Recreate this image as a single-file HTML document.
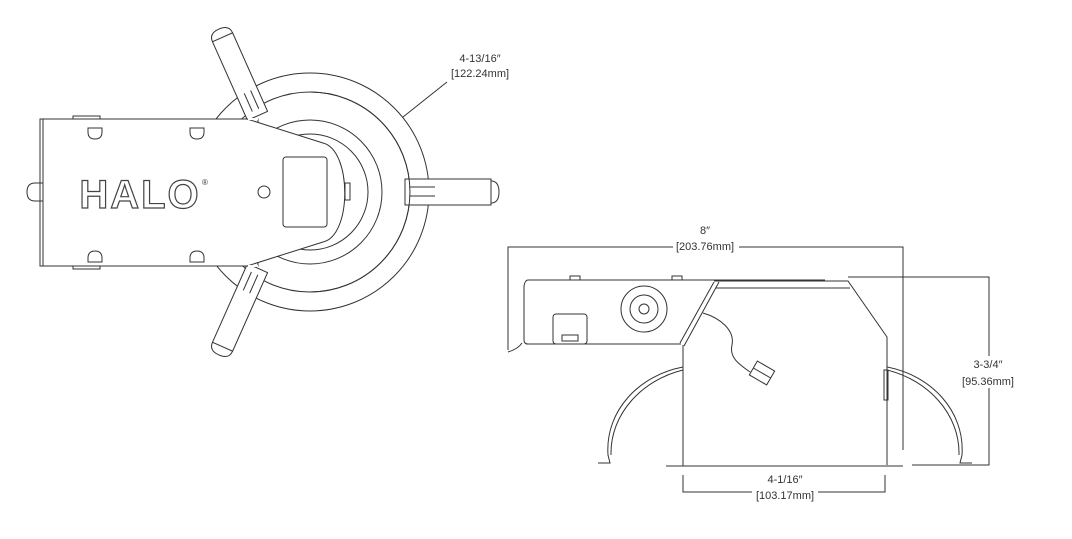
<!DOCTYPE html>
<html><head><meta charset="utf-8"><style>
html,body{margin:0;padding:0;background:#fff;}
svg{display:block}
text{font-family:"Liberation Sans Narrow","Liberation Sans",sans-serif;fill:#333;font-size:11px;text-anchor:middle}
</style></head><body>
<svg width="1072" height="539" viewBox="0 0 1072 539" xmlns="http://www.w3.org/2000/svg">
<g fill="none" stroke="#333" stroke-width="1">
<!-- LEFT TOP VIEW -->
<circle cx="310" cy="192" r="119" fill="#fff"/>
<circle cx="310" cy="192" r="100"/>
<!-- arms -->
<g transform="translate(238,72) rotate(66)">
<rect x="-38" y="-11" width="86" height="22" fill="#fff"/>
<path d="M-38,-11 q-9,0 -9,11 q0,11 9,11"/>
<line x1="22" y1="-4" x2="42" y2="-4"/><line x1="22" y1="3" x2="42" y2="3"/>
</g>
<g transform="translate(238,312) rotate(-66)">
<rect x="-38" y="-11" width="86" height="22" fill="#fff"/>
<path d="M-38,-11 q-9,0 -9,11 q0,11 9,11"/>
<line x1="22" y1="-4" x2="42" y2="-4"/><line x1="22" y1="3" x2="42" y2="3"/>
</g>
<rect x="405" y="179" width="86" height="26" fill="#fff"/>
<path d="M491,181 q8,0 8,11 q0,11 -8,11"/>
<line x1="410" y1="187" x2="435" y2="187"/><line x1="410" y1="196" x2="435" y2="196"/>
<path d="M310,92 A100,100 0 0 1 310,292"/>
<circle cx="310" cy="192" r="72" fill="#fff"/>
<circle cx="310" cy="192" r="58"/>
<!-- box -->
<rect x="43" y="119" width="215" height="147" fill="#fff"/>
<path d="M40,125 v135 M43,119 h-3 v6 M43,266 h-3 v-6" />
<path d="M73,119 v-3 h27 v3 M73,266 v3 h27 v-3"/>
<path d="M43,183 h-8 q-8,0 -8,9 q0,9 8,9 h8"/>
<!-- plate -->
<path d="M247,119 L323,143 C352,150 352,236 323,242 L247,266" fill="#fff"/>
<path d="M248,119 L258,119 M248,266 L258,266" stroke="#fff" stroke-width="2"/>
<rect x="283" y="157" width="44" height="70" rx="3"/>
<circle cx="264" cy="192" r="6"/>
<rect x="345" y="183" width="5" height="17"/>
<!-- bumps -->
<g>
<path d="M88,128 h14 v4 q0,7 -7,7 q-7,0 -7,-7z"/>
<path d="M190,128 h14 v4 q0,7 -7,7 q-7,0 -7,-7z"/>
<path d="M88,262 h14 v-4 q0,-7 -7,-7 q-7,0 -7,7z"/>
<path d="M190,262 h14 v-4 q0,-7 -7,-7 q-7,0 -7,7z"/>
</g>
<!-- callout -->
<line x1="403" y1="117" x2="447" y2="82"/>

<!-- RIGHT SIDE VIEW -->
<path d="M508,350 V247 H673 M739,247 H903 V450"/>
<path d="M848,277 H989 V465 H912"/>
<path d="M683,475 V492 H752 M818,492 H885 V475"/>
<!-- springs -->
<path d="M683,367 C640,375 605,410 608,455 L610,463 L598,463 M683,370 C642,380 610,414 611,455"/>
<path d="M887,367 C930,375 965,410 962,455 L960,463 L972,463 M887,370 C928,380 960,414 959,455"/>
<!-- junction box -->
<path d="M528,280 H825 M526,344 H681 M528,280 q-3,0 -4,6 V340 q0,4 4,4"/>
<path d="M522,343 q-4,6 -14,9"/>
<rect x="570" y="276" width="10" height="4"/><rect x="672" y="276" width="10" height="4"/>
<rect x="553" y="314" width="34" height="30" rx="3"/>
<rect x="562" y="335" width="16" height="6"/>
<circle cx="644" cy="309" r="23"/><circle cx="644" cy="309" r="14"/><circle cx="644" cy="309" r="5"/>
<!-- can -->
<path d="M714,281 H848 L887,337 V465"/>
<path d="M716,288 H850"/>
<path d="M683,345 V466"/>
<path d="M714,282 L680,343 M719,282 L684,346"/>
<path d="M703,313 C720,318 735,330 732,345 C729,358 740,365 750,372"/>
<g transform="translate(762,373) rotate(30)"><rect x="-10" y="-8" width="20" height="16"/><line x1="-10" y1="0" x2="10" y2="0"/></g>
<rect x="884" y="370" width="4" height="30"/>
<line x1="666" y1="466" x2="903" y2="466"/>
</g>
<!-- text -->
<rect x="966" y="356" width="46" height="32" fill="#fff"/>
<text x="480" y="62">4-13/16″</text>
<text x="480" y="77">[122.24mm]</text>
<text x="705" y="234">8″</text>
<text x="705" y="250">[203.76mm]</text>
<text x="988" y="368">3-3/4″</text>
<text x="988" y="385">[95.36mm]</text>
<text x="785" y="483">4-1/16″</text>
<text x="785" y="499">[103.17mm]</text>
<text x="140" y="208" style="font-family:'Liberation Sans',sans-serif;font-weight:bold;font-size:40px;fill:none;stroke:#444;stroke-width:1.2;letter-spacing:2px;text-anchor:middle">HALO</text>
<text x="205" y="185" style="font-size:8px;fill:#333">®</text>
</svg>
</body></html>
